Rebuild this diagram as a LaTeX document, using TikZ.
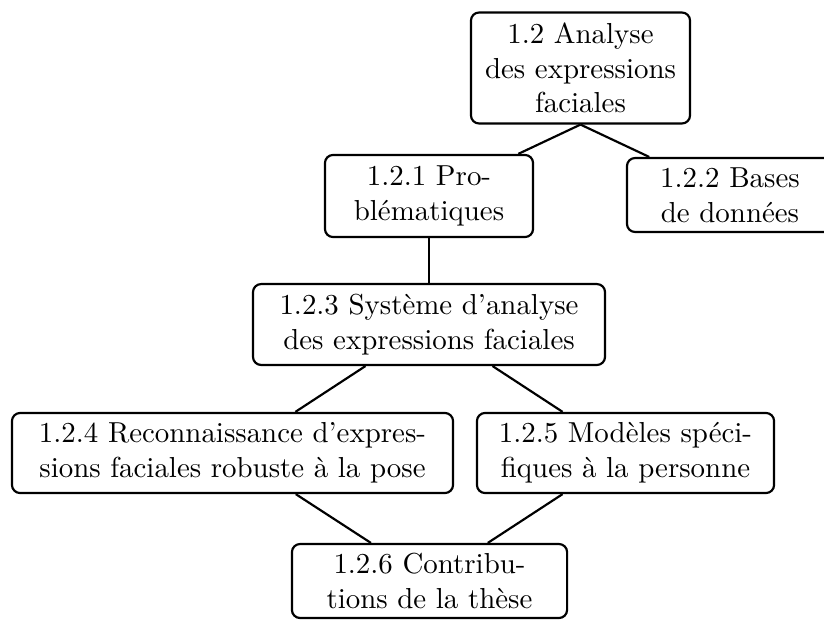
\documentclass[tikz,border=0pt]{standalone}
\begin{document}
\begin{tikzpicture}[x=0.346pt,y=-0.346pt,
  box/.style={draw,rounded corners=2.8pt,line width=0.75pt,align=center,inner sep=0pt},
  link/.style={line width=0.75pt}]
\useasboundingbox (0,0) rectangle (824,619);
\clip (0,0) rectangle (824,619);
\node[box,minimum width=75.8pt,minimum height=38.4pt] (A) at (580.5,68) {1.2 Analyse\\des expressions\\faciales};
\node[box,minimum width=72pt,minimum height=28.4pt] (B) at (429,196) {1.2.1 Pro-\\blématiques};
\node[box,minimum width=71.3pt,minimum height=25.6pt] (C) at (730,195) {1.2.2 Bases\\de données};
\node[box,minimum width=121.8pt,minimum height=28pt] (D) at (429,324.5) {1.2.3 Système d’analyse\\des expressions faciales};
\node[box,minimum width=152.6pt,minimum height=27.7pt] (E) at (232.5,453) {1.2.4 Reconnaissance d’expres-\\sions faciales robuste à la pose};
\node[box,minimum width=102.8pt,minimum height=27.7pt] (F) at (625.5,453) {1.2.5 Modèles spéci-\\fiques à la personne};
\node[box,minimum width=95.2pt,minimum height=25.6pt] (G) at (429.5,581) {1.2.6 Contribu-\\tions de la thèse};
\draw[link] (A.south) -- (B);
\draw[link] (A.south) -- (C);
\draw[link] (B) -- (D);
\draw[link] (D) -- (E);
\draw[link] (D) -- (F);
\draw[link] (E) -- (G);
\draw[link] (F) -- (G);
\end{tikzpicture}
\end{document}
